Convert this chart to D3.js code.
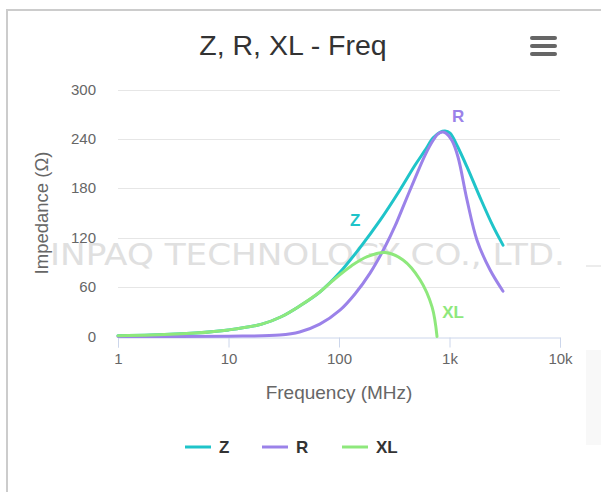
<!DOCTYPE html>
<html><head><meta charset="utf-8">
<script src="https://cdn.jsdelivr.net/npm/d3@7"></script>
<style>
html,body{margin:0;padding:0;background:#fff;}
svg{display:block;font-family:"Liberation Sans",Arial,Helvetica,sans-serif;}
</style></head>
<body>
<svg id="chart" width="601" height="492"></svg>
<script>
const title = "Z, R, XL - Freq";
const xTicks = [1, 10, 100, 1000, 10000];
const xTickLabels = ["1", "10", "100", "1k", "10k"];
const yTicks = [0, 60, 120, 180, 240, 300];
const seriesNames = ["Z", "R", "XL"];
const seriesColors = ["#1fc4c9", "#9b82e9", "#8ee87c"];

const zFreq = [1, 2, 5, 10, 20, 30, 44, 67, 102, 155, 235, 356, 487, 600, 709, 820, 910, 1011, 1170, 1440, 1888, 2477, 3050];
const zVals = [0.9, 1.7, 4.2, 8, 15, 24, 37, 54, 78, 108, 141, 178, 208, 226, 241, 248, 249.6, 247, 232, 206, 169, 134, 111];
const rFreq = [1, 10, 29, 44, 67, 102, 140, 191, 261, 321, 395, 487, 600, 709, 787, 856, 930, 1053, 1194, 1440, 1774, 2326, 3050];
const rVals = [0, 0.3, 1.8, 5.5, 15, 32, 52, 77, 109, 134, 163, 192, 220, 238, 246, 248.4, 247, 238, 218, 166, 117, 81, 55];
const xlFreq = [1, 2, 5, 10, 20, 30, 44, 67, 88, 130, 180, 261, 380, 541, 695, 771];
const xlVals = [0.9, 1.7, 4.2, 8, 15, 24, 37, 54, 68, 86, 97, 102, 93, 69, 36, 0];

// anchor points for the in-chart series labels
const labelAnchor = [[200, 118], [860, 250], [771, 0]];

const svg = d3.select("#chart");
const W = 601, H = 492;
const x = d3.scaleLog().domain([1, 10000]).range([118, 560]);
const y = d3.scaleLinear().domain([0, 300]).range([336.5, 89.5]);

// frame
svg.append("line").attr("x1", 6).attr("x2", W).attr("y1", 10).attr("y2", 10).attr("stroke", "#cccccc").attr("stroke-width", 2);
svg.append("line").attr("x1", 7).attr("x2", 7).attr("y1", 9).attr("y2", H).attr("stroke", "#cccccc").attr("stroke-width", 2);

// faint background on right edge
svg.append("rect").attr("x", 586).attr("y", 265).attr("width", 15).attr("height", 2).attr("fill", "#ececec");
svg.append("rect").attr("x", 586).attr("y", 350).attr("width", 15).attr("height", 95).attr("fill", "#f8f8f8");

// grid
const gy = svg.append("g");
yTicks.forEach(t => {
  if (t === 0) return;
  gy.append("line").attr("x1", 118).attr("x2", 560).attr("y1", Math.round(y(t)) + 0.5).attr("y2", Math.round(y(t)) + 0.5)
    .attr("stroke", "#e6e6e6").attr("stroke-width", 1);
});

// watermark
svg.append("defs").append("clipPath").attr("id", "wm").append("rect").attr("x", 8).attr("y", 0).attr("width", 593).attr("height", H);
svg.append("text").attr("clip-path", "url(#wm)").attr("x", 50).attr("y", 265).attr("textLength", 515).attr("lengthAdjust", "spacingAndGlyphs")
  .attr("font-family", "DejaVu Sans").attr("font-size", 31).attr("fill", "#e0e0e0").text("INPAQ TECHNOLOGY CO., LTD.");

// y labels
yTicks.forEach(t => {
  svg.append("text").attr("x", 96).attr("y", y(t) + 5).attr("text-anchor", "end").attr("font-size", 15).attr("fill", "#666666").text(t);
});

// x axis
const xAxis = d3.axisBottom(x).tickValues(xTicks).tickFormat((d, i) => xTickLabels[i]).tickSize(10).tickPadding(6);
const gx = svg.append("g").attr("transform", `translate(0,${Math.round(y(0)) + 0.5})`).call(xAxis);
gx.select(".domain").attr("stroke", "#ccd6eb");
gx.selectAll(".tick line").attr("stroke", "#ccd6eb");
gx.selectAll(".tick text").attr("font-size", 15).attr("fill", "#666666").attr("font-family", "Liberation Sans, Arial, sans-serif");

// axis titles
svg.append("text").attr("x", 339).attr("y", 399).attr("text-anchor", "middle").attr("font-size", 19).attr("fill", "#666666").text("Frequency (MHz)");
svg.append("text").attr("transform", "translate(48,213) rotate(-90)").attr("text-anchor", "middle").attr("font-size", 18.5).attr("fill", "#666666").text("Impedance (Ω)");

// title
svg.append("text").attr("x", 293).attr("y", 55).attr("text-anchor", "middle").attr("font-size", 28.5).attr("fill", "#333333").text(title);

// menu icon
[38, 46, 54].forEach(yy => {
  svg.append("line").attr("x1", 532).attr("x2", 555).attr("y1", yy).attr("y2", yy).attr("stroke", "#666666").attr("stroke-width", 4).attr("stroke-linecap", "round");
});

// series
const seriesData = [
  zFreq.map((f, i) => [f, zVals[i]]),
  rFreq.map((f, i) => [f, rVals[i]]),
  xlFreq.map((f, i) => [f, xlVals[i]])
];
const line = d3.line().x(d => x(d[0])).y(d => y(d[1])).curve(d3.curveCatmullRom.alpha(0.5));
[0, 1, 2].forEach(i => {
  svg.append("path").attr("d", line(seriesData[i])).attr("fill", "none").attr("stroke", seriesColors[i]).attr("stroke-width", 3).attr("stroke-linejoin", "round").attr("stroke-linecap", "round");
});

// data labels
const labelOffsets = [[-17, -13], [16, -9], [16, -19]];
seriesNames.forEach((n, i) => {
  const p = labelAnchor[i];
  svg.append("text").attr("x", x(p[0]) + labelOffsets[i][0]).attr("y", y(p[1]) + labelOffsets[i][1]).attr("text-anchor", "middle")
    .attr("font-size", 17).attr("font-weight", "bold").attr("fill", seriesColors[i]).text(n);
});

// legend
const legendX = [185, 262, 342];
seriesNames.forEach((n, i) => {
  const lx = legendX[i];
  svg.append("line").attr("x1", lx).attr("x2", lx + 26).attr("y1", 447).attr("y2", 447).attr("stroke", seriesColors[i]).attr("stroke-width", 3);
  svg.append("text").attr("x", lx + 34).attr("y", 453).attr("font-size", 17).attr("font-weight", "bold").attr("fill", "#333333").text(n);
});
</script>
</body></html>
